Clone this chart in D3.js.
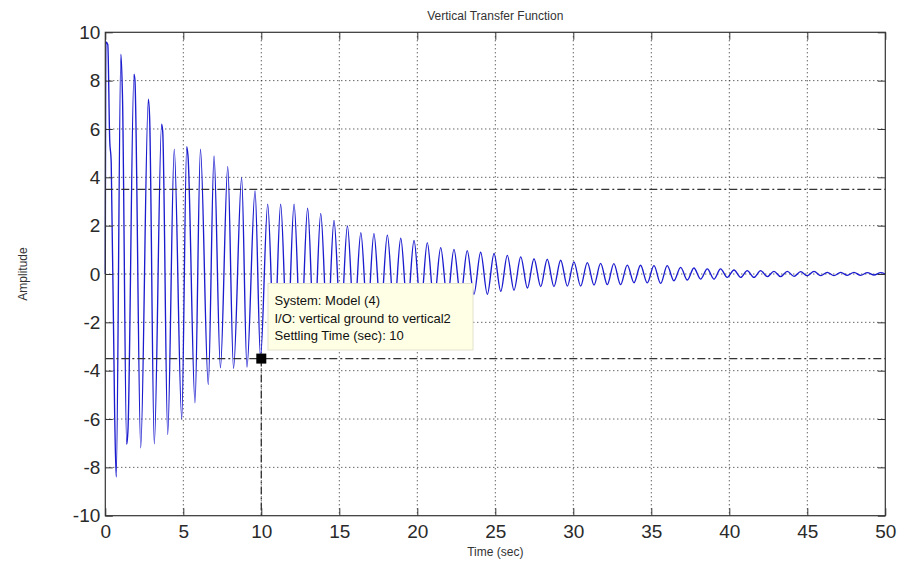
<!DOCTYPE html>
<html>
<head>
<meta charset="utf-8">
<script src="https://cdn.jsdelivr.net/npm/d3@7"></script>
<style>
  html, body { margin: 0; padding: 0; background: #ffffff; }
  svg { display: block; }
  text { font-family: "Liberation Sans", Arial, Helvetica, sans-serif; }
</style>
</head>
<body>
<div id="chart"></div>
<script>
// ---------------- DATA ----------------
const chartTitle = "Vertical Transfer Function";
const xLabel = "Time (sec)";
const yLabel = "Amplitude";

const xTicks = [0, 5, 10, 15, 20, 25, 30, 35, 40, 45, 50];
const yTicks = [-10, -8, -6, -4, -2, 0, 2, 4, 6, 8, 10];
const xTickLabels = ["0", "5", "10", "15", "20", "25", "30", "35", "40", "45", "50"];
const yTickLabels = ["-10", "-8", "-6", "-4", "-2", "0", "2", "4", "6", "8", "10"];

// step response samples (extrema and shoulders)
const respTime = [
  0, 0.04, 0.16, 0.28, 0.38, 0.6, 0.7, 1.0, 1.1, 1.37, 1.45, 1.84, 1.9, 2.27, 2.76, 2.84,
  3.14, 3.61, 3.68, 4.0, 4.42, 4.9, 5.22, 5.3, 5.75, 6.1, 6.6, 6.97, 7.38, 7.85, 8.22,
  8.74, 9.08, 9.6, 9.95, 10.41, 10.83, 11.24, 11.67, 12.1, 12.53, 12.97, 13.39, 13.81,
  14.24, 14.66, 15.09, 15.52, 15.95, 16.38, 16.8, 17.22, 17.65, 18.08, 18.51, 18.94,
  19.36, 19.79, 20.22, 20.64, 21.07, 21.5, 21.93, 22.35, 22.78, 23.2, 23.63, 24.06,
  24.49, 24.92, 25.35, 25.77, 26.2, 26.63, 27.06, 27.48, 27.91, 28.33, 28.76, 29.19,
  29.62, 30.04, 30.47, 30.9, 31.33, 31.75, 32.18, 32.6, 33.03, 33.46, 33.89, 34.31,
  34.74, 35.17, 35.6, 36.02, 36.45, 36.88, 37.31, 37.73, 38.16, 38.59, 39.02, 39.44,
  39.87, 40.3, 40.73, 41.15, 41.58, 42.01, 42.44, 42.86, 43.29, 43.72, 44.15, 44.57,
  45.0, 45.43, 45.86, 46.28, 46.71, 47.14, 47.57, 47.99, 48.42, 48.85, 49.28, 49.7, 50
];
const respAmp = [
  0, 9.6, 9.5, 5.6, 4.6, -5.8, -8.4, 9.1, 7.4, -7.05, -6.5, 8.27, 8.0, -7.19, 7.23, 6.5,
  -7.03, 6.2, 5.9, -6.64, 5.16, -6.0, 5.27, 4.9, -5.33, 5.16, -4.57, 4.88, -3.88, 4.44, -3.9,
  3.99, -3.85, 3.44, -3.45, 2.89, -2.8, 2.89, -2.75, 2.89, -2.65, 2.72, -2.5, 2.51,
  -2.3, 2.22, -2.1, 1.99, -1.9, 1.71, -1.75, 1.67, -1.6, 1.61, -1.5, 1.48,
  -1.4, 1.39, -1.3, 1.3, -1.15, 1.09, -1.05, 1.02, -0.95, 0.97, -0.84, 0.9,
  -0.84, 0.85, -0.72, 0.77, -0.67, 0.71, -0.58, 0.63, -0.52, 0.61, -0.52, 0.57,
  -0.5, 0.5, -0.5, 0.47, -0.46, 0.44, -0.44, 0.43, -0.44, 0.37, -0.36, 0.36,
  -0.37, 0.345, -0.39, 0.345, -0.28, 0.276, -0.25, 0.25, -0.21, 0.21, -0.21, 0.21,
  -0.14, 0.166, -0.14, 0.138, -0.14, 0.138, -0.11, 0.11, -0.11, 0.11, -0.097, 0.097,
  -0.07, 0.11, -0.07, 0.07, -0.07, 0.07, -0.055, 0.07, -0.055, 0.055, -0.04, 0.055, 0
];

// settling-time characteristic
const settleTime = [10];
const settleBand = [3.5, -3.5];
const tipLines = [
  "System: Model (4)",
  "I/O: vertical ground to vertical2",
  "Settling Time (sec): 10"
];

// ---------------- CHART ----------------
const W = 901, H = 563;
const plot = { left: 105.3, right: 885.3, top: 32.3, bottom: 515.7 };

const svg = d3.select("#chart").append("svg")
  .attr("width", W).attr("height", H)
  .style("background", "#ffffff");

const x = d3.scaleLinear().domain([0, 50]).range([plot.left, plot.right]);
const y = d3.scaleLinear().domain([-10, 10]).range([plot.bottom, plot.top]);

const axisColor = "#333333";
const tickLen = 7.5;

// grid (dotted)
const grid = svg.append("g");
grid.selectAll("line.gx").data(xTicks.slice(1, -1)).join("line")
  .attr("x1", d => x(d)).attr("x2", d => x(d))
  .attr("y1", plot.top).attr("y2", plot.bottom)
  .attr("stroke", "#222").attr("stroke-width", 1)
  .attr("stroke-dasharray", "1,3");
grid.selectAll("line.gy").data(yTicks.slice(1, -1)).join("line")
  .attr("y1", d => y(d)).attr("y2", d => y(d))
  .attr("x1", plot.left).attr("x2", plot.right)
  .attr("stroke", "#222").attr("stroke-width", 1)
  .attr("stroke-dasharray", "1,3");

// response line
const pts = respTime.map((t, i) => [t, respAmp[i]]);
const line = d3.line()
  .x(d => x(d[0])).y(d => y(d[1]))
  .curve(d3.curveMonotoneX);
svg.append("path")
  .datum(pts)
  .attr("d", line)
  .attr("fill", "none")
  .attr("stroke", "#1c1ccf")
  .attr("stroke-width", 1.35);

// settling lines (dash-dot)
const dd = "8,3,2,3";
svg.selectAll("line.band").data(settleBand).join("line")
  .attr("x1", plot.left).attr("x2", plot.right)
  .attr("y1", d => y(d)).attr("y2", d => y(d))
  .attr("stroke", "#333").attr("stroke-width", 1.3)
  .attr("stroke-dasharray", dd);
svg.selectAll("line.vset").data(settleTime).join("line")
  .attr("x1", d => x(d)).attr("x2", d => x(d))
  .attr("y1", y(settleBand[1])).attr("y2", plot.bottom)
  .attr("stroke", "#333").attr("stroke-width", 1.3)
  .attr("stroke-dasharray", dd);

// axes (ticks inward)
const fontSize = 19;
const xAxisG = svg.append("g").attr("transform", `translate(0,${plot.bottom})`)
  .call(d3.axisBottom(x).tickValues(xTicks).tickSizeInner(-tickLen).tickSizeOuter(0).tickPadding(8.5)
    .tickFormat((d, i) => xTickLabels[i]));
const xAxisTop = svg.append("g").attr("transform", `translate(0,${plot.top})`)
  .call(d3.axisTop(x).tickValues(xTicks).tickSizeInner(-tickLen).tickSizeOuter(0).tickFormat(""));
const yAxisG = svg.append("g").attr("transform", `translate(${plot.left},0)`)
  .call(d3.axisLeft(y).tickValues(yTicks).tickSizeInner(-tickLen).tickSizeOuter(0).tickPadding(5)
    .tickFormat((d, i) => yTickLabels[i]));
const yAxisRight = svg.append("g").attr("transform", `translate(${plot.right},0)`)
  .call(d3.axisRight(y).tickValues(yTicks).tickSizeInner(-tickLen).tickSizeOuter(0).tickFormat(""));

[xAxisG, xAxisTop, yAxisG, yAxisRight].forEach(g => {
  g.select(".domain").remove();
  g.selectAll(".tick line").attr("stroke", axisColor).attr("stroke-width", 1);
  g.selectAll("text").attr("fill", "#2a2a2a")
    .style("font-size", fontSize + "px")
    .style("font-family", '"Liberation Sans", Arial, sans-serif');
});

// frame
svg.append("rect")
  .attr("x", plot.left).attr("y", plot.top)
  .attr("width", plot.right - plot.left).attr("height", plot.bottom - plot.top)
  .attr("fill", "none").attr("stroke", axisColor).attr("stroke-width", 1.2);

// marker
svg.selectAll("rect.mk").data(settleTime).join("rect")
  .attr("x", d => x(d) - 5).attr("y", y(settleBand[1]) - 5)
  .attr("width", 10).attr("height", 10)
  .attr("fill", "#000");

// data tip
const tip = svg.append("g");
tip.append("rect")
  .attr("x", 268).attr("y", 283.5)
  .attr("width", 205).attr("height", 66.5)
  .attr("fill", "#ffffe6")
  .attr("stroke", "#e2e2cc").attr("stroke-width", 1);
tip.selectAll("text").data(tipLines).join("text")
  .attr("x", 274.5)
  .attr("y", (d, i) => 305 + i * 17.6)
  .attr("fill", "#111")
  .style("font-size", "13px")
  .text(d => d);

// titles
svg.append("text")
  .attr("x", (plot.left + plot.right) / 2).attr("y", 20)
  .attr("text-anchor", "middle").attr("fill", "#333")
  .style("font-size", "12px").text(chartTitle);
svg.append("text")
  .attr("x", (plot.left + plot.right) / 2).attr("y", 556)
  .attr("text-anchor", "middle").attr("fill", "#333")
  .style("font-size", "12px").text(xLabel);
svg.append("text")
  .attr("transform", `translate(27,${(plot.top + plot.bottom) / 2}) rotate(-90)`)
  .attr("text-anchor", "middle").attr("fill", "#333")
  .style("font-size", "12px").text(yLabel);
</script>
</body>
</html>
